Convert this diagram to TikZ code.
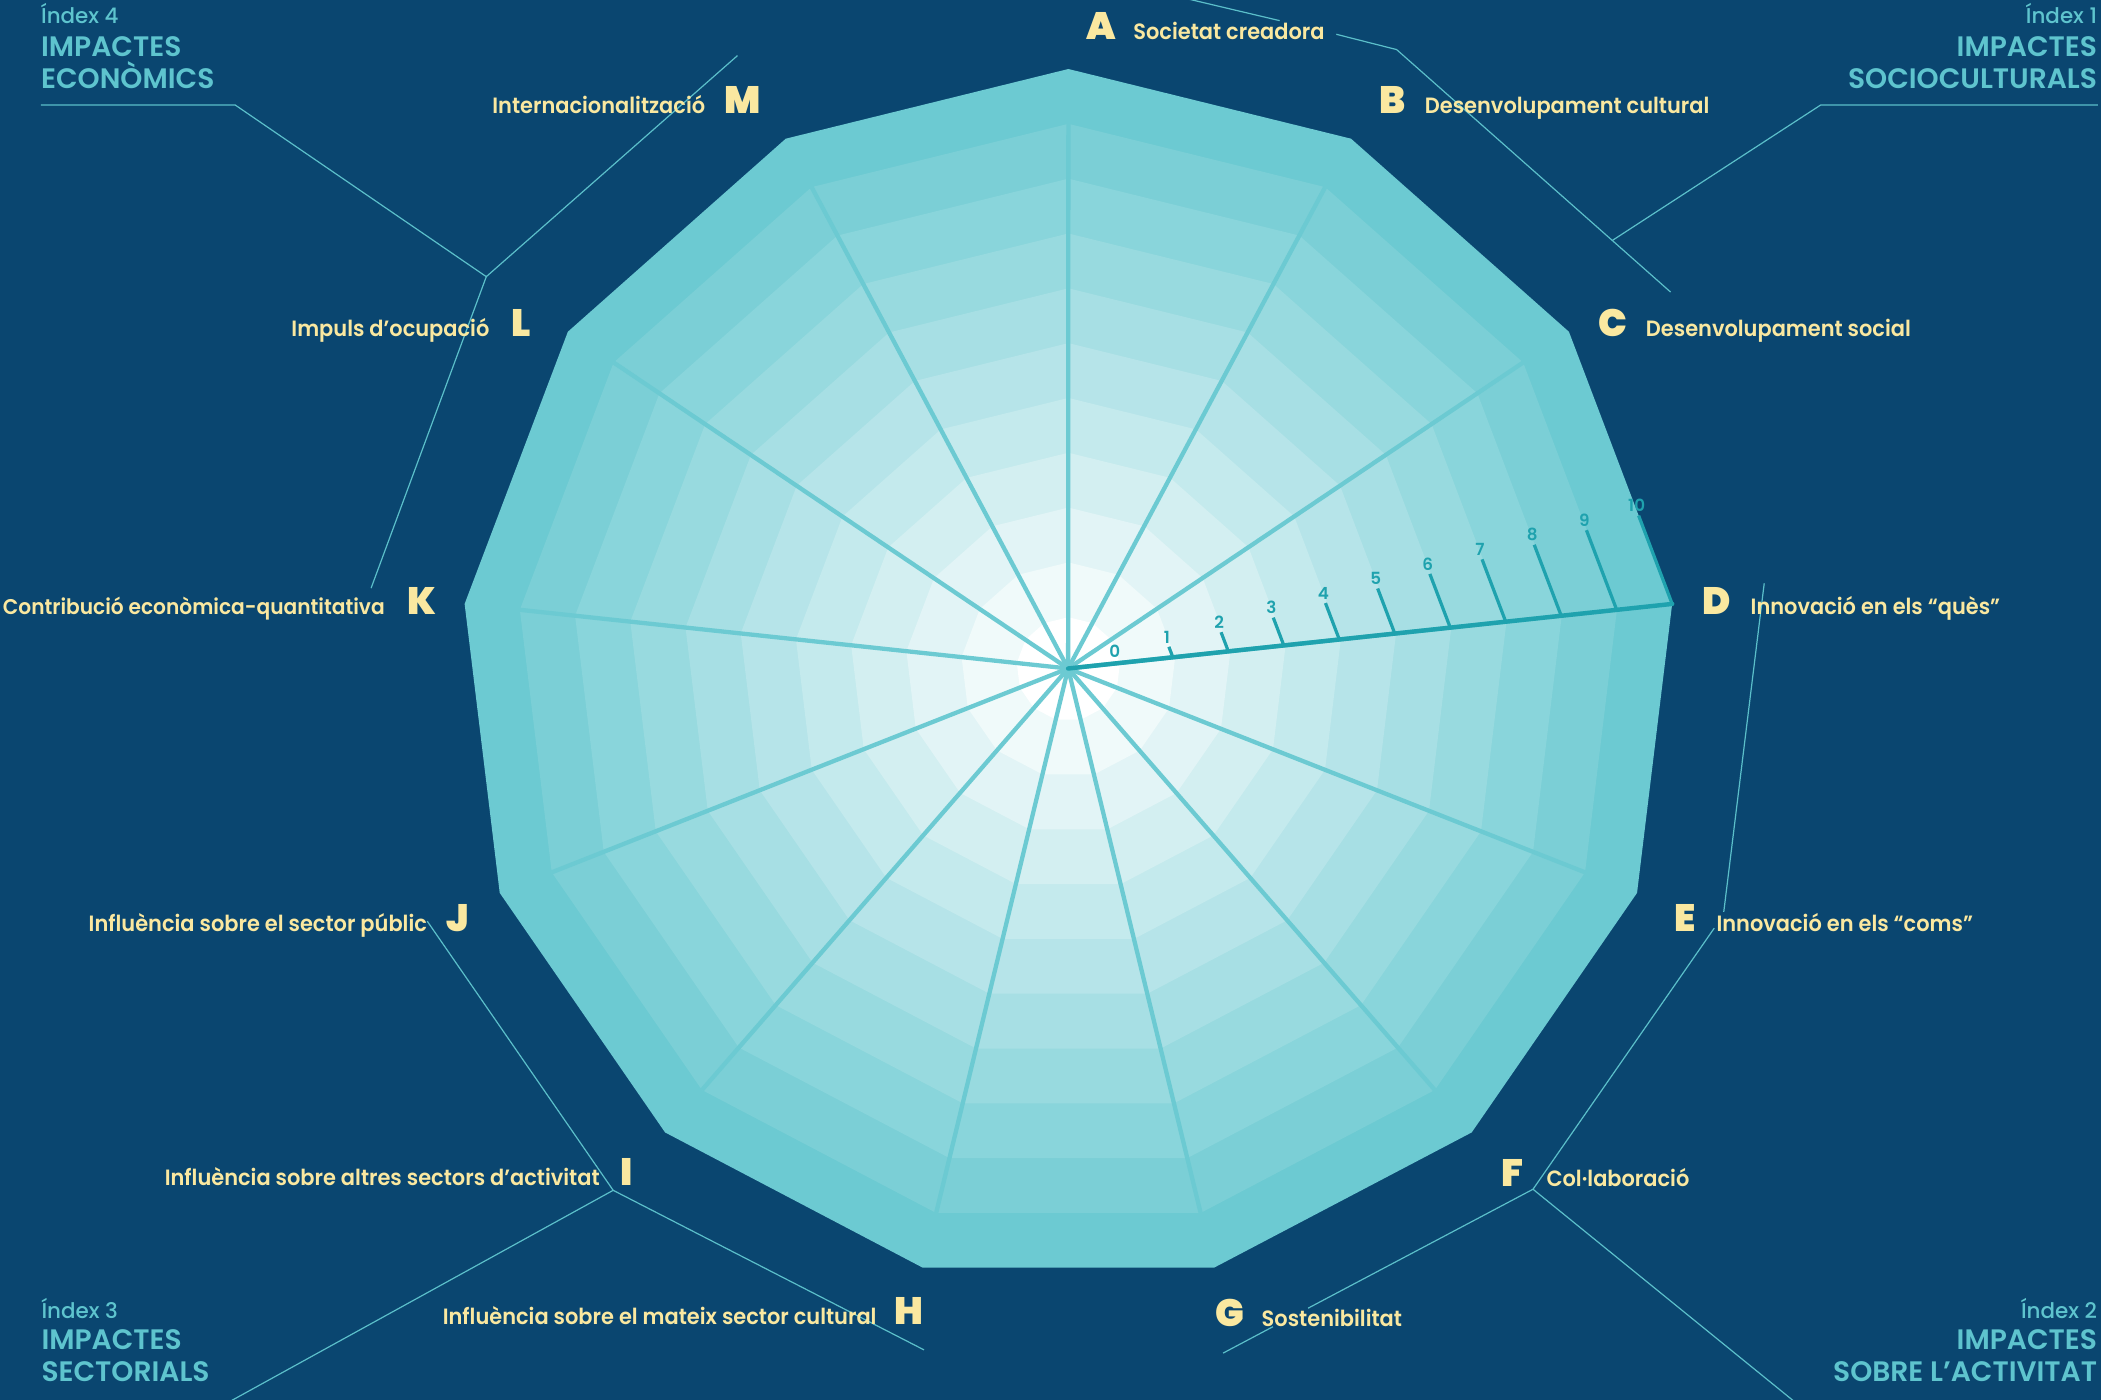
\documentclass[tikz,border=0pt]{standalone}
\usepackage{fontspec}
\usetikzlibrary{calc}
\setmainfont{Poppins}
\IfFontExistsTF{Poppins SemiBold}{\newfontfamily\semib{Poppins SemiBold}\newfontfamily\semibn{Poppins SemiBold}[FakeStretch=0.947]}{\newcommand\semib{\bfseries}\newcommand\semibn{\bfseries}}
\IfFontExistsTF{Poppins Medium}{\newfontfamily\medf{Poppins Medium}}{\newcommand\medf{\mdseries}}
\IfFontExistsTF{Poppins Black}{\newfontfamily\heavy{Poppins Black}}{\IfFontExistsTF{Poppins ExtraBold}{\newfontfamily\heavy{Poppins ExtraBold}}{\newcommand\heavy{\bfseries}}}
\definecolor{bg}{HTML}{0A4670}
\definecolor{ringteal}{HTML}{6CCAD2}
\definecolor{axisteal}{HTML}{1FA2AE}
\definecolor{lblyellow}{HTML}{FAE8A0}
\definecolor{headteal}{HTML}{5EC4CE}
\definecolor{leadc}{HTML}{5BBFCA}
\begin{document}
\begin{tikzpicture}[x=1pt,y=-1pt,
  lbl/.style={text=lblyellow,inner sep=0pt,font=\semibn\fontsize{16.5}{20}\selectfont},
  letter/.style={text=lblyellow,inner sep=0pt,anchor=base,font=\heavy\fontsize{28.5}{30}\selectfont},
  idx/.style={text=headteal,inner sep=0pt,font=\medf\fontsize{16}{18}\selectfont},
  head/.style={text=headteal,inner sep=0pt,font=\semib\fontsize{21}{24}\selectfont},
  spoke/.style={draw=ringteal,line width=3.2pt},
  axisline/.style={draw=axisteal,line width=3.3pt,line cap=round},
  tickline/.style={draw=axisteal,line width=2.4pt},
  ticklbl/.style={text=axisteal,inner sep=0pt,anchor=south,font=\semib\fontsize{12.5}{14}\selectfont},
  leader/.style={draw=leadc,line width=0.9pt}]
\useasboundingbox (0,0) rectangle (1568.3,1045);
\fill[bg] (0,0) rectangle (1568.3,1045);
% rings
\foreach \k in {10,9,...,0}{
  \pgfmathsetmacro\rr{38.8+41.52*\k}
  \pgfmathsetmacro\cy{499.5+0.6*\k}
  \pgfmathtruncatemacro\pc{10*\k}
  \fill[ringteal!\pc!white] (797.5,{\cy-\rr})
    \foreach \i in {1,...,12}{ -- ({797.5+\rr*cos(90-\i*360/13)},{\cy-\rr*sin(90-\i*360/13)}) } -- cycle;
}
\coordinate (S) at (797.3,499);
\coordinate (Dv) at ({797.5+454*cos(90-3*360/13)},{505.5-454*sin(90-3*360/13)});
% spokes
\foreach \i in {0,...,12}{
  \coordinate (p\i) at ({797.5+412.5*cos(90-\i*360/13)},{504.9-412.5*sin(90-\i*360/13)});
  \draw[spoke] (S) -- (p\i);
}
\draw[axisline] (S) -- (Dv);
% ticks
\foreach \k in {0,...,10}{
  \pgfmathsetmacro\f{(37+41.65*\k)/453.5}
  \pgfmathsetmacro\L{1.5+6.9*\k}
  \coordinate (tb\k) at ($(S)!\f!(Dv)$);
  \coordinate (tt\k) at ($(tb\k)+(-0.355*\L,-0.935*\L)$);
  \draw[tickline] (tb\k) -- (tt\k);
  \node[ticklbl] (tl\k) at ($(tt\k)+(-1.5,-2.5)$) {\k};
}
% leader lines
\coordinate (L4a) at (30.5,78.4);
\coordinate (L4b) at (175.6,78.4);
\coordinate (L4j) at (363,206.5);
\coordinate (L4m) at (550.5,41.5);
\coordinate (L4k) at (277,439);
\draw[leader] (L4a) -- (L4b) -- (L4j) -- (L4m);
\draw[leader] (L4j) -- (L4k);
\coordinate (L1a) at (1566,78.4);
\coordinate (L1b) at (1359,78.4);
\coordinate (L1j) at (1203.5,179.5);
\coordinate (La0) at (885.8,-1);
\coordinate (La1) at (955.2,15.4);
\coordinate (La2) at (997.5,25.6);
\coordinate (La3) at (1042.5,37);
\coordinate (Lc) at (1247,218);
\draw[leader] (La0) -- (La1);
\draw[leader] (La2) -- (La3) -- (Lc);
\draw[leader] (L1a) -- (L1b) -- (L1j);
\coordinate (Ld) at (1316.9,435.4);
\coordinate (Le1) at (1286.7,680.7);
\coordinate (Le2) at (1279.6,692.8);
\coordinate (Lf) at (1144.3,887.7);
\coordinate (Lg1) at (976.4,976.5);
\coordinate (Lg2) at (950.2,990.3);
\coordinate (Lg) at (913,1010);
\coordinate (L2b) at (1340.4,1047);
\draw[leader] (Ld) -- (Le1);
\draw[leader] (Le2) -- (Lf) -- (Lg1);
\draw[leader] (Lg2) -- (Lg);
\draw[leader] (Lf) -- (L2b);
\coordinate (Lj) at (318.9,687.6);
\coordinate (Li) at (457.7,888.5);
\coordinate (Lh) at (689.7,1007.6);
\coordinate (L3b) at (170,1047);
\draw[leader] (Lj) -- (Li) -- (Lh);
\draw[leader] (Li) -- (L3b);
% axis labels
\node[letter] (ltA) at (821.7,29.4) {A};
\node[lbl,anchor=base west] (txA) at (845.8,29.4) {Societat creadora};
\node[letter] (ltB) at (1039.6,84.6) {B};
\node[lbl,anchor=base west] (txB) at (1063.4,84.6) {Desenvolupament cultural};
\node[letter] (ltC) at (1204,251) {C};
\node[lbl,anchor=base west] (txC) at (1228.4,251) {Desenvolupament social};
\node[letter] (ltD) at (1281.5,458.5) {D};
\node[lbl,anchor=base west] (txD) at (1306.6,458.5) {Innovació en els “quès”};
\node[letter] (ltE) at (1257.8,695) {E};
\node[lbl,anchor=base west] (txE) at (1281.1,695) {Innovació en els “coms”};
\node[letter] (ltF) at (1129,885.7) {F};
\node[lbl,anchor=base west] (txF) at (1154.2,885.7) {Col·laboració};
\node[letter] (ltG) at (917.7,990) {G};
\node[lbl,anchor=base west] (txG) at (941.6,990) {Sostenibilitat};
\node[letter] (ltH) at (678.6,989) {H};
\node[lbl,anchor=base east] (txH) at (654.5,989) {Influència sobre el mateix sector cultural};
\node[letter] (ltI) at (468.1,885) {I};
\node[lbl,anchor=base east] (txI) at (447.8,885) {Influència sobre altres sectors d’activitat};
\node[letter] (ltJ) at (341.9,695) {J};
\node[lbl,anchor=base east] (txJ) at (318.9,695) {Influència sobre el sector públic};
\node[letter] (ltK) at (314.8,458.5) {K};
\node[lbl,anchor=base east,font=\semibn\fontsize{15.9}{20}\selectfont] (txK) at (287.4,458.5) {Contribució econòmica-quantitativa};
\node[letter] (ltL) at (388.8,251) {L};
\node[lbl,anchor=base east] (txL) at (365.5,251) {Impuls d’ocupació};
\node[letter] (ltM) at (554,84.6) {M};
\node[lbl,anchor=base east] (txM) at (526.6,84.6) {Internacionalització};
% group headings
\node[idx,anchor=base west] (h4a) at (30.5,17.9) {Índex 4};
\node[head,anchor=base west] (h4b) at (30.5,41.8) {IMPACTES};
\node[head,anchor=base west] (h4c) at (30.5,65.9) {ECONÒMICS};
\node[idx,anchor=base east] (h1a) at (1565.5,17.9) {Índex 1};
\node[head,anchor=base east] (h1b) at (1565.5,41.8) {IMPACTES};
\node[head,anchor=base east] (h1c) at (1565.5,65.9) {SOCIOCULTURALS};
\node[idx,anchor=base west] (h3a) at (30.8,984.1) {Índex 3};
\node[head,anchor=base west] (h3b) at (30.8,1007.6) {IMPACTES};
\node[head,anchor=base west] (h3c) at (30.8,1031.1) {SECTORIALS};
\node[idx,anchor=base east] (h2a) at (1565.5,984.1) {Índex 2};
\node[head,anchor=base east] (h2b) at (1565.5,1007.6) {IMPACTES};
\node[head,anchor=base east] (h2c) at (1565.5,1031.1) {SOBRE L’ACTIVITAT};
\end{tikzpicture}
\end{document}
